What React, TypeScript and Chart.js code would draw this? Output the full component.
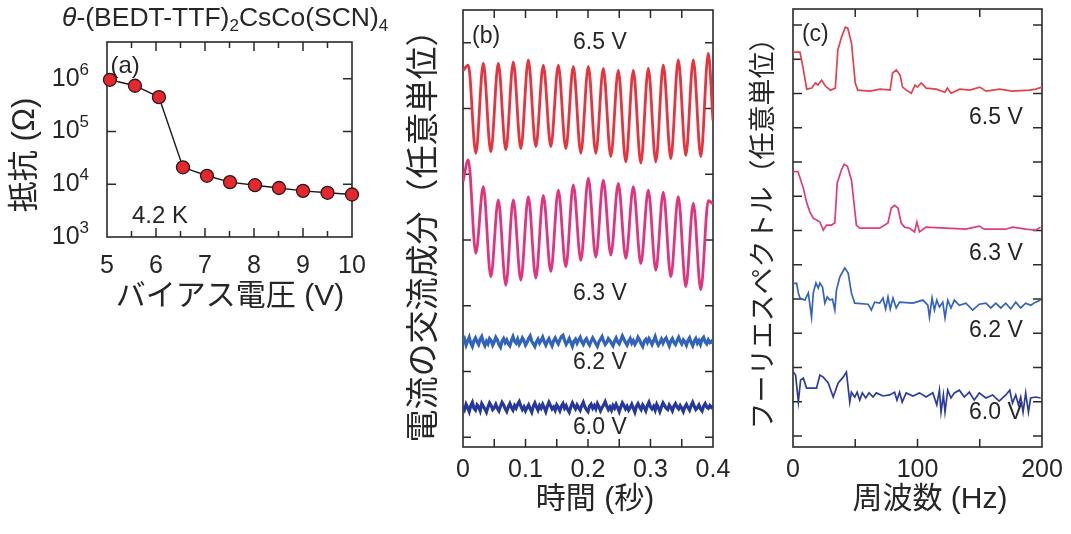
import React, { useEffect, useRef } from 'react';
import { Chart, registerables } from 'chart.js';
Chart.register(...registerables);

const FAM = "'Liberation Sans', Arial, 'Noto Sans CJK JP', sans-serif";
const TXT = '#262626';

// ---------- Panel (a): resistance vs bias voltage ----------
const biasVoltage = [5.06, 5.57, 6.06, 6.55, 7.04, 7.51, 8.02, 8.51, 9.0, 9.5, 10.0];
const resistance = [9.6e5, 7.4e5, 4.5e5, 2.1e4, 1.45e4, 1.1e4, 9.6e3, 8.5e3, 7.5e3, 6.9e3, 6.4e3];
const aXMajor = [6, 7, 8, 9];
const aXMinor = [5.5, 6.5, 7.5, 8.5, 9.5];
const aYDecades = [1e4, 1e5, 1e6];
const aYLabelExp = [3, 4, 5, 6];

// ---------- Panel (b): AC component of current vs time ----------
const timeOsc = [0, 0.0085, 0.0205, 0.0325, 0.0445, 0.0565, 0.0685, 0.0805, 0.0925, 0.1045, 0.1165, 0.1285, 0.1405, 0.1525, 0.1645, 0.1765, 0.1885, 0.2005, 0.2125, 0.2245, 0.2365, 0.2485, 0.2605, 0.2725, 0.2845, 0.2965, 0.3085, 0.3205, 0.3325, 0.3445, 0.3565, 0.3685, 0.3805, 0.3925, 0.4];
const current65 = [5.58, 5.66, 4.32, 5.69, 4.34, 5.69, 4.37, 5.71, 4.39, 5.74, 4.42, 5.66, 4.42, 5.66, 4.39, 5.64, 4.32, 5.64, 4.32, 5.61, 4.27, 5.58, 4.19, 5.58, 4.17, 5.61, 4.19, 5.66, 4.24, 5.74, 4.29, 5.74, 4.27, 5.84, 4.82];
const current63 = [3.89, 4.22, 2.80, 3.81, 2.44, 3.61, 2.31, 3.61, 2.39, 3.66, 2.42, 3.68, 2.52, 3.76, 2.59, 3.84, 2.69, 3.94, 2.74, 3.91, 2.77, 3.86, 2.72, 3.81, 2.64, 3.76, 2.54, 3.73, 2.44, 3.66, 2.29, 3.56, 2.24, 3.60, 3.55];
const current62 = [
  1.44,1.49,1.40,1.46,1.52,1.43,1.38,1.47,1.51,1.45,1.41,1.49,1.53,1.44,1.39,1.46,1.42,1.50,1.47,1.40,
  1.45,1.52,1.48,1.41,1.37,1.46,1.50,1.44,1.48,1.42,1.39,1.47,1.53,1.46,1.43,1.49,1.41,1.45,1.51,1.47,
  1.40,1.44,1.50,1.54,1.46,1.42,1.38,1.45,1.49,1.43,1.47,1.52,1.45,1.40,1.46,1.50,1.44,1.39,1.47,1.51,
  1.46,1.42,1.48,1.53,1.55,1.47,1.41,1.45,1.50,1.44,1.38,1.46,1.49,1.43,1.48,1.52,1.45,1.41,1.47,1.50,
  1.44,1.40,1.46,1.51,1.47,1.42,1.38,1.45,1.49,1.53,1.46,1.41,1.44,1.50,1.47,1.43,1.39,1.46,1.51,1.45,
  1.42,1.48,1.54,1.49,1.44,1.40,1.46,1.50,1.43,1.47,1.41,1.45,1.52,1.48,1.42,1.38,1.46,1.49,1.44,1.50,
  1.46,1.41,1.47,1.53,1.45,1.40,1.44,1.49,1.43,1.48,1.51,1.45,1.39,1.46,1.50,1.44,1.41,1.47,1.52,1.46,
  1.42,1.48,1.45,1.40,1.47,1.51,1.44,1.39,1.46,1.50,1.43,1.47,1.41,1.49,1.52,1.45,1.42,1.48,1.44,1.46,1.43];
const current60 = [
  0.47,0.42,0.50,0.45,0.39,0.48,0.53,0.44,0.41,0.49,0.46,0.40,0.51,0.47,0.43,0.38,0.46,0.52,0.48,0.42,
  0.45,0.50,0.44,0.40,0.47,0.53,0.49,0.43,0.39,0.46,0.51,0.45,0.41,0.48,0.44,0.50,0.54,0.47,0.42,0.46,
  0.40,0.45,0.49,0.43,0.38,0.47,0.52,0.46,0.41,0.48,0.44,0.50,0.45,0.39,0.47,0.53,0.48,0.43,0.46,0.41,
  0.49,0.45,0.40,0.47,0.51,0.44,0.48,0.42,0.38,0.46,0.52,0.47,0.43,0.49,0.45,0.41,0.48,0.53,0.46,0.42,
  0.39,0.47,0.50,0.44,0.48,0.43,0.51,0.46,0.40,0.45,0.49,0.54,0.47,0.42,0.46,0.41,0.48,0.44,0.50,0.45,
  0.39,0.46,0.52,0.48,0.43,0.47,0.41,0.45,0.50,0.44,0.38,0.47,0.51,0.46,0.42,0.49,0.45,0.40,0.48,0.53,
  0.46,0.43,0.47,0.41,0.50,0.45,0.39,0.46,0.52,0.48,0.44,0.42,0.49,0.45,0.40,0.47,0.51,0.46,0.43,0.48,
  0.44,0.39,0.46,0.50,0.45,0.41,0.48,0.53,0.47,0.42,0.45,0.49,0.43,0.40,0.47,0.51,0.46,0.44,0.48,0.45,0.47];
const noiseDuration = 0.4;
const bXTicks = [0.05, 0.1, 0.15, 0.2, 0.25, 0.3, 0.35];
const bYTicks = [0, 1, 2, 3, 4, 5, 6];

// ---------- Panel (c): Fourier spectra ----------
const freq65 = [0, 5.6, 8, 11, 15, 18, 20, 23, 26, 30, 34, 36, 39, 42, 44, 47, 50, 52, 62, 70, 78, 80, 83, 86, 88, 91, 95, 98, 100, 103, 107, 115, 122, 124, 127, 134, 142, 150, 155, 166, 176, 190, 195, 200];
const spec65 = [11.21, 11.21, 10.77, 10.13, 10.16, 10.31, 10.25, 10.39, 10.22, 10.10, 10.16, 11.27, 11.65, 11.94, 11.91, 11.47, 10.31, 10.10, 10.07, 10.13, 10.10, 10.60, 10.69, 10.54, 10.19, 10.10, 10.01, 10.25, 10.19, 10.31, 10.16, 10.13, 10.04, 10.16, 10.01, 10.13, 10.10, 10.19, 10.07, 10.13, 10.07, 10.10, 10.13, 10.19];
const freq63 = [0, 4, 8.3, 10.9, 13.6, 16.3, 18.9, 21.6, 24.3, 26.9, 30.9, 33.6, 35.5, 38.9, 41.1, 43.7, 47, 50.9, 53.6, 69.6, 76.3, 78.9, 81.6, 84.3, 86.9, 89.6, 93.6, 97.6, 99.5, 101.6, 106.9, 122.9, 138.9, 149.6, 153.6, 170.9, 176.3, 186.9, 194.9, 198.9];
const spec63 = [7.72, 7.72, 7.24, 6.83, 6.54, 6.36, 6.31, 6.25, 6.01, 6.16, 6.16, 6.22, 7.39, 7.77, 7.94, 7.88, 7.47, 6.16, 6.07, 6.07, 6.22, 6.66, 6.74, 6.66, 6.22, 6.10, 6.07, 5.96, 6.25, 5.96, 6.10, 6.07, 6.04, 6.13, 6.04, 6.04, 6.10, 6.04, 6.01, 6.10];
const freq62 = [0, 2.9, 4.3, 5.6, 9.6, 12.3, 14.9, 16.3, 18.4, 20.3, 21.6, 23.7, 25.6, 27.5, 29.6, 31.7, 33.6, 34.9, 37.6, 41.6, 44.3, 46.9, 49.6, 60.3, 62.9, 65.6, 69.6, 72.3, 74.4, 76.3, 78.1, 80.3, 82.9, 85.6, 96.3, 104.3, 108.3, 109.6, 111.7, 113.6, 115.5, 117.6, 120.3, 122.1, 124.3, 126.9, 129.6, 133.6, 138.9, 144.3, 149.6, 154.9, 158.9, 162.9, 166.9, 170.9, 174.9, 178.9, 182.9, 186.9, 190.9, 194.9, 198.9];
const spec62 = [4.46, 4.46, 4.18, 4.03, 3.97, 4.18, 3.47, 4.18, 4.47, 4.32, 4.47, 4.35, 3.88, 4.06, 3.97, 4.00, 3.68, 4.26, 4.64, 4.91, 4.76, 4.18, 3.88, 3.85, 3.68, 3.91, 3.88, 4.03, 3.71, 4.06, 3.71, 4.03, 3.74, 3.91, 3.88, 3.97, 3.82, 3.47, 4.03, 3.68, 3.97, 3.77, 3.91, 3.45, 3.97, 3.74, 3.97, 3.82, 3.88, 3.68, 3.85, 3.88, 3.74, 3.88, 3.74, 3.88, 3.71, 3.91, 3.74, 3.88, 3.82, 3.91, 3.97];
const freq60 = [0, 2.1, 4.3, 6.1, 8.3, 10.9, 18.9, 21.6, 24.3, 28.3, 32.3, 36.3, 40.3, 42.9, 45.6, 46.9, 49.6, 51.5, 53.6, 55.7, 58.4, 61.1, 64.3, 66.9, 72.3, 77.6, 81.6, 83.5, 85.6, 87.7, 90.9, 96.3, 101.6, 106.9, 112.3, 115.5, 117.6, 118.9, 120.8, 122.1, 124.3, 126.9, 129.6, 133.6, 137.6, 141.6, 145.6, 149.6, 154.9, 160.3, 165.6, 170.9, 174.1, 176.3, 178.9, 181.1, 182.9, 184.8, 186.9, 189.1, 190.9, 194.9, 198.9];
const spec60 = [1.88, 1.78, 1.00, 1.64, 1.69, 1.40, 1.40, 1.78, 1.72, 1.55, 1.14, 1.55, 1.72, 1.87, 0.99, 1.28, 1.14, 1.28, 1.05, 1.26, 1.11, 1.26, 1.14, 1.26, 1.17, 1.20, 1.28, 1.05, 1.28, 0.99, 1.26, 1.17, 1.26, 1.14, 1.26, 0.91, 1.34, 0.70, 1.20, 0.70, 1.34, 1.11, 1.26, 1.34, 1.14, 1.28, 1.05, 1.26, 1.11, 1.20, 1.02, 1.20, 1.34, 0.96, 1.20, 0.91, 1.14, 0.70, 1.26, 0.70, 1.11, 1.14, 1.11];
const cXTicks = [50, 100, 150];
const cYTicks = [0, 1, 2, 3, 4, 5, 6, 7, 8, 9, 10, 11, 12];

type Seg = { t: string; size?: number; dy?: number; italic?: boolean };
type TextItem = {
  segs: Seg[]; x: number; y: number; data?: boolean; size: number;
  align?: 'left' | 'center' | 'right'; rotate?: boolean;
};
type Decor = {
  xTicks: { v: number; len: number }[];
  yTicks: { v: number; len: number }[];
  texts: TextItem[];
  logLabels?: number[];
};

function drawRich(ctx: CanvasRenderingContext2D, it: TextItem, x: number, y: number) {
  const fontOf = (s: Seg) => `${s.italic ? 'italic ' : ''}${s.size ?? it.size}px ${FAM}`;
  let total = 0;
  const ws = it.segs.map((s) => { ctx.font = fontOf(s); const w = ctx.measureText(s.t).width; total += w; return w; });
  ctx.save();
  ctx.translate(x, y);
  if (it.rotate) ctx.rotate(-Math.PI / 2);
  let cx = it.align === 'center' ? -total / 2 : it.align === 'right' ? -total : 0;
  ctx.textAlign = 'left';
  ctx.textBaseline = 'middle';
  ctx.fillStyle = TXT;
  it.segs.forEach((s, i) => { ctx.font = fontOf(s); ctx.fillText(s.t, cx, s.dy ?? 0); cx += ws[i]; });
  ctx.restore();
}

function makeDecor(d: Decor) {
  return {
    id: 'decor',
    beforeDatasetsDraw(chart: any) {
      const ctx: CanvasRenderingContext2D = chart.ctx;
      const { left, right, top, bottom } = chart.chartArea;
      const xs = chart.scales.x, ys = chart.scales.y;
      ctx.save();
      ctx.strokeStyle = '#2a2a2a';
      ctx.lineWidth = 1.6;
      ctx.strokeRect(left, top, right - left, bottom - top);
      ctx.lineWidth = 1.5;
      ctx.beginPath();
      for (const t of d.xTicks) {
        const p = xs.getPixelForValue(t.v);
        ctx.moveTo(p, bottom); ctx.lineTo(p, bottom - t.len);
        ctx.moveTo(p, top); ctx.lineTo(p, top + t.len);
      }
      for (const t of d.yTicks) {
        const p = ys.getPixelForValue(t.v);
        ctx.moveTo(left, p); ctx.lineTo(left + t.len, p);
        ctx.moveTo(right, p); ctx.lineTo(right - t.len, p);
      }
      ctx.stroke();
      ctx.restore();
      if (d.logLabels) {
        for (const e of d.logLabels) {
          const p = ys.getPixelForValue(Math.pow(10, e));
          drawRich(ctx, { segs: [{ t: '10' }, { t: String(e), size: 17, dy: -9 }], x: 0, y: 0, size: 25, align: 'right' }, left - 18, p);
        }
      }
      for (const it of d.texts) {
        const x = it.data ? xs.getPixelForValue(it.x) : it.x;
        const y = it.data ? ys.getPixelForValue(it.y) : it.y;
        drawRich(ctx, it, x, y);
      }
    },
  };
}

function ChartBox({ left, top, width, height, make }: any) {
  const ref = useRef<HTMLCanvasElement>(null);
  useEffect(() => {
    const c = new Chart(ref.current!, make());
    return () => c.destroy();
  }, []);
  return (
    <div style={{ position: 'absolute', left, top, width, height }}>
      <canvas ref={ref} width={width} height={height} style={{ width, height, display: 'block' }} />
    </div>
  );
}

const tickFont = { size: 25, family: FAM };

function baseOptions(pad: any, xOpts: any, yOpts: any, xH: number, yW: number) {
  return {
    responsive: false,
    animation: false,
    devicePixelRatio: 1,
    layout: { padding: pad },
    plugins: { legend: { display: false }, tooltip: { enabled: false }, title: { display: false } },
    scales: {
      x: { grid: { display: false }, border: { display: false }, afterFit: (s: any) => { s.height = xH; }, ...xOpts },
      y: { grid: { display: false }, border: { display: false }, afterFit: (s: any) => { s.width = yW; }, ...yOpts },
    },
  };
}

const lineDs = (xs: number[], ys: number[], color: string, width: number, extra: any = {}) => ({
  data: xs.map((x, i) => ({ x, y: ys[i] })),
  borderColor: color, borderWidth: width, pointRadius: 0, fill: false, tension: 0, showLine: true, ...extra,
});

function makeA() {
  const decor = makeDecor({
    xTicks: [...aXMajor.map((v) => ({ v, len: 9 })), ...aXMinor.map((v) => ({ v, len: 6 }))],
    yTicks: aYDecades.map((v) => ({ v, len: 9 })),
    logLabels: aYLabelExp,
    texts: [
      { segs: [{ t: '(a)' }], x: 5.07, y: 1.75e6, data: true, size: 24 },
      { segs: [{ t: '4.2 K' }], x: 5.51, y: 2.5e3, data: true, size: 24 },
      { segs: [{ t: 'θ', italic: true }, { t: '-(BEDT-TTF)' }, { t: '2', size: 17, dy: 7 }, { t: 'CsCo(SCN)' }, { t: '4', size: 17, dy: 7 }], x: 62, y: 19, size: 26.5 },
      { segs: [{ t: 'バイアス電圧 (V)' }], x: 230, y: 297, size: 30, align: 'center' },
      { segs: [{ t: '抵抗 (Ω)' }], x: 25, y: 155, size: 31, align: 'center', rotate: true },
    ],
  });
  return {
    type: 'scatter',
    data: {
      datasets: [{
        data: biasVoltage.map((x, i) => ({ x, y: resistance[i] })),
        showLine: true, borderColor: '#1a1a1a', borderWidth: 1.4,
        pointRadius: 6.5, pointBackgroundColor: '#e8262e', pointBorderColor: '#2a1a1a', pointBorderWidth: 1.3,
        clip: false,
      }],
    },
    options: baseOptions({ left: 0, top: 42, right: 58, bottom: 0 },
      { type: 'linear', min: 5, max: 10, ticks: { stepSize: 1, font: tickFont, color: TXT, padding: 6, autoSkip: false, maxRotation: 0 } },
      { type: 'logarithmic', min: 1e3, max: 5e6, ticks: { display: false } }, 83, 107),
    plugins: [decor],
  };
}

function makeB() {
  const decor = makeDecor({
    xTicks: bXTicks.map((v) => ({ v, len: 8 })),
    yTicks: bYTicks.map((v) => ({ v, len: 8 })),
    texts: [
      { segs: [{ t: '(b)' }], x: 0.0144, y: 6.09, data: true, size: 23 },
      { segs: [{ t: '6.5 V' }], x: 0.219, y: 6.0, data: true, size: 23, align: 'center' },
      { segs: [{ t: '6.3 V' }], x: 0.219, y: 2.19, data: true, size: 23, align: 'center' },
      { segs: [{ t: '6.2 V' }], x: 0.219, y: 1.14, data: true, size: 23, align: 'center' },
      { segs: [{ t: '6.0 V' }], x: 0.219, y: 0.15, data: true, size: 23, align: 'center' },
      { segs: [{ t: '時間 (秒)' }], x: 205, y: 500, size: 30, align: 'center' },
      { segs: [{ t: '電流の交流成分（任意単位）' }], x: 35, y: 228, size: 33, align: 'center', rotate: true },
    ],
  });
  const tNoise = (n: number) => Array.from({ length: n }, (_, i) => (i * noiseDuration) / (n - 1));
  return {
    type: 'scatter',
    data: {
      datasets: [
        lineDs(timeOsc, current65, '#e8323e', 2.8, { cubicInterpolationMode: 'monotone' }),
        lineDs(timeOsc, current63, '#e2337f', 2.8, { cubicInterpolationMode: 'monotone' }),
        lineDs(tNoise(current62.length), current62, '#3163bb', 3.2),
        lineDs(tNoise(current60.length), current60, '#27389c', 3.2),
      ],
    },
    options: baseOptions({ left: 0, top: 10, right: 22, bottom: 0 },
      { type: 'linear', min: 0, max: 0.4, ticks: { stepSize: 0.1, font: tickFont, color: TXT, padding: 0, autoSkip: false, maxRotation: 0, callback: (v: number) => (v === 0 ? '0' : Number(v).toFixed(1)) } },
      { type: 'linear', min: -0.15, max: 6.5, ticks: { display: false } }, 87, 73),
    plugins: [decor],
  };
}

function makeC() {
  const decor = makeDecor({
    xTicks: cXTicks.map((v) => ({ v, len: 8 })),
    yTicks: cYTicks.map((v) => ({ v, len: 9 })),
    texts: [
      { segs: [{ t: '(c)' }], x: 7.2, y: 11.71, data: true, size: 23 },
      { segs: [{ t: '6.5 V' }], x: 163, y: 9.31, data: true, size: 23, align: 'center' },
      { segs: [{ t: '6.3 V' }], x: 163, y: 5.34, data: true, size: 23, align: 'center' },
      { segs: [{ t: '6.2 V' }], x: 163, y: 3.09, data: true, size: 23, align: 'center' },
      { segs: [{ t: '6.0 V' }], x: 163, y: 0.67, data: true, size: 23, align: 'center' },
      { segs: [{ t: '周波数 (Hz)' }], x: 195, y: 500, size: 30, align: 'center' },
      { segs: [{ t: 'フーリエスペクトル（任意単位）' }], x: 30, y: 227, size: 27, align: 'center', rotate: true },
    ],
  });
  return {
    type: 'scatter',
    data: {
      datasets: [
        lineDs(freq65, spec65, '#e4404e', 1.7),
        lineDs(freq63, spec63, '#e03a82', 1.7),
        lineDs(freq62, spec62, '#3462bd', 1.7),
        lineDs(freq60, spec60, '#2d3b9e', 1.7),
      ],
    },
    options: baseOptions({ left: 0, top: 9, right: 29, bottom: 0 },
      { type: 'linear', min: 0, max: 200, ticks: { stepSize: 100, font: tickFont, color: TXT, padding: 0, autoSkip: false, maxRotation: 0 } },
      { type: 'linear', min: -0.32, max: 12.47, ticks: { display: false } }, 87, 58),
    plugins: [decor],
  };
}

export default function App() {
  return (
    <div style={{ position: 'absolute', left: 0, top: 0, width: 1071, height: 534, background: '#fff', overflow: 'hidden' }}>
      <ChartBox left={0} top={0} width={410} height={320} make={makeA} />
      <ChartBox left={390} top={0} width={345} height={534} make={makeB} />
      <ChartBox left={735} top={0} width={336} height={534} make={makeC} />
    </div>
  );
}
